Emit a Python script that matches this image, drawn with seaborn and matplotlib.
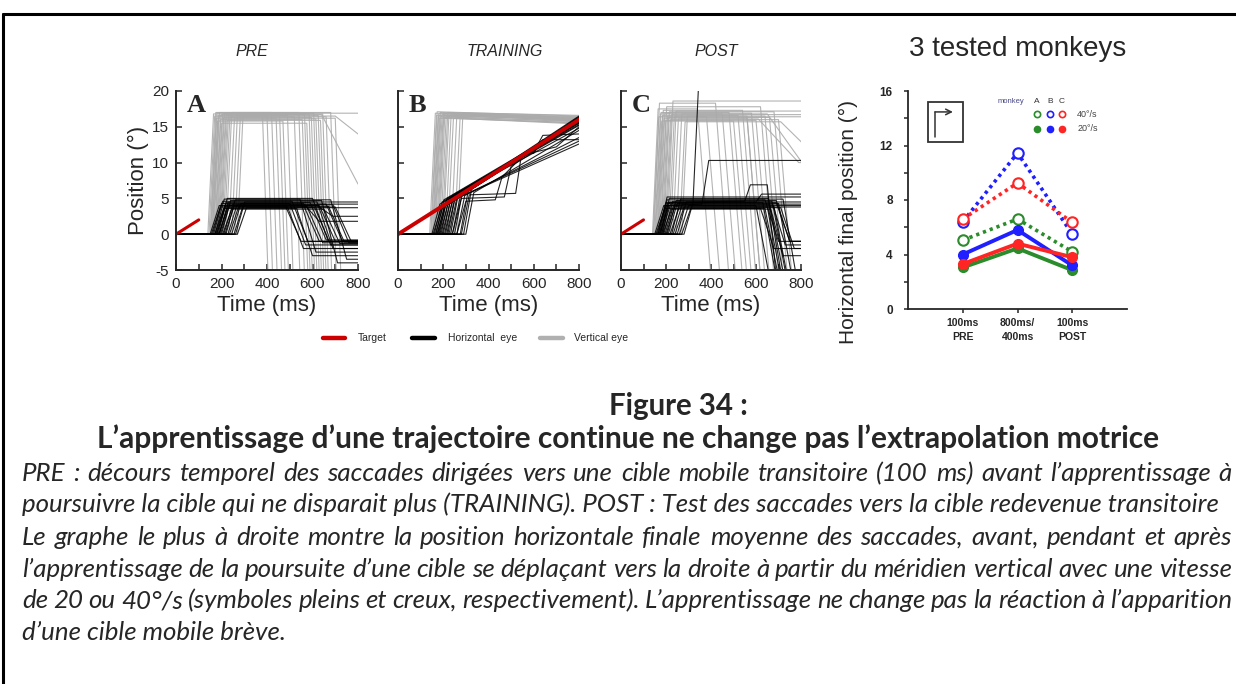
import numpy as np
import pandas as pd
import matplotlib
matplotlib.use("Agg")
import matplotlib.pyplot as plt
from matplotlib.lines import Line2D
from matplotlib.patches import Rectangle
from matplotlib.ticker import MultipleLocator
import seaborn as sns

sns.set_style("ticks")
plt.rcParams["font.family"] = ["Liberation Sans", "DejaVu Sans"]
plt.rcParams["axes.unicode_minus"] = False

W, H = 1236, 684

# ---------------- eye-trace parameters (ms, deg) ----------------
# PRE: horizontal eye
PRE_H_ON = [150, 155, 160, 165, 170, 172, 175, 178, 180, 185, 188, 190, 195, 200, 205,
            210, 215, 220, 228, 235, 245, 255, 262, 270, 190]
PRE_H_AMP = [4.0, 3.8, 4.3, 4.6, 3.6, 4.9, 4.1, 3.9, 4.4, 5.0, 3.7, 4.5, 4.0, 4.7, 3.5,
             4.2, 3.9, 4.8, 4.1, 3.8, 4.3, 4.0, 4.5, 3.7, 4.2]
PRE_H_OFF = [480, 490, 500, 510, 530, 545, 560, 575, 590, 600, 610, 620, 630, 640, 650,
             660, 670, 680, 690, 700, 560, 620, 900, 900, 900]
PRE_H_END = [-1.0, -2.0, -1.5, -1.0, -3.0, -2.5, -1.0, -1.2, -0.8, -1.0, -1.5, -2.0, -1.0,
             -4.0, -1.3, -0.9, -1.1, -3.5, -1.2, -1.0, 1.8, 2.5, 0, 0, 0]
# PRE: vertical eye
PRE_V_ON = [140, 145, 150, 152, 155, 158, 160, 163, 166, 170, 173, 176, 180, 184, 188,
            192, 196, 200, 206, 212, 220, 232, 245, 258, 270]
PRE_V_AMP = [16.8, 16.5, 17.0, 16.2, 16.9, 15.8, 16.6, 16.4, 17.0, 16.0, 16.7, 15.5, 16.8,
             16.3, 16.9, 16.1, 16.6, 15.9, 16.8, 16.4, 17.0, 16.2, 16.7, 16.5, 16.9]
PRE_V_OFF = [380, 400, 420, 440, 455, 470, 490, 520, 540, 555, 565, 575, 585, 595, 605,
             615, 625, 635, 645, 660, 680, 700, 640, 700, 900]
PRE_V_END = [-6] * 22 + [7.0, 14.0, 0]
PRE_V_DUR = [25] * 22 + [160, 100, 0]

# TRAINING: horizontal eye (onset, landing after first saccade, position at 800 ms)
TRN_H_ON = [150, 155, 160, 165, 168, 172, 175, 178, 182, 185, 190, 195, 200, 205, 210,
            215, 220, 225, 232, 240, 250, 260, 275, 290, 300]
TRN_H_LAND = [4.2, 3.5, 4.5, 4.0, 4.8, 3.9, 4.6, 4.3, 5.0, 4.1, 4.9, 4.4, 5.2, 4.6, 5.4,
              4.8, 5.5, 5.0, 5.6, 5.2, 5.9, 5.4, 6.0, 6.3, 5.8]
TRN_H_END = [15.8, 16.2, 15.5, 16.5, 15.9, 16.0, 15.2, 16.3, 15.7, 16.1, 14.8, 16.4, 15.6,
             16.0, 15.3, 16.2, 15.9, 13.0, 16.1, 12.6, 15.5, 13.5, 16.0, 15.7, 14.5]
# TRAINING: horizontal traces with catch-up steps (time, position)
TRN_H_STEP_T = [[0, 260, 300, 430, 460, 560, 600, 640, 800],
                [0, 240, 280, 470, 500, 600, 640, 800],
                [0, 280, 315, 520, 545, 700, 800]]
TRN_H_STEP_Y = [[0, 0, 4.6, 4.8, 8.0, 11.2, 11.3, 13.2, 13.2],
                [0, 0, 5.0, 5.2, 9.5, 11.5, 13.8, 14.0],
                [0, 0, 5.5, 5.7, 11.0, 12.2, 15.0]]
# TRAINING: vertical eye
TRN_V_ON = [140, 145, 148, 152, 155, 158, 162, 165, 170, 174, 178, 182, 188, 195, 200,
            210, 220, 235, 250, 262]
TRN_V_AMP = [16.9, 16.6, 17.1, 16.4, 16.8, 16.2, 17.0, 16.5, 16.7, 16.3, 16.9, 16.6, 16.4,
             17.0, 16.5, 16.8, 16.2, 16.7, 16.6, 16.9]
TRN_V_END = [16.3, 16.0, 16.5, 15.8, 16.2, 15.6, 16.4, 16.1, 15.9, 15.5, 16.3, 16.0, 15.7,
             16.6, 16.2, 15.9, 15.4, 16.1, 15.8, 16.2]

# POST: horizontal eye
PST_H_ON = [150, 155, 160, 165, 170, 175, 180, 185, 190, 195, 200, 205, 210, 218, 225,
            232, 240, 250, 260, 270, 280, 165]
PST_H_AMP = [4.0, 3.6, 4.4, 4.8, 3.8, 5.0, 4.2, 3.5, 4.6, 4.1, 3.9, 4.7, 4.3, 3.7, 4.9,
             4.2, 3.8, 4.5, 4.0, 3.6, 4.4, 5.2]
PST_H_OFF = [600, 620, 630, 640, 650, 655, 660, 665, 670, 675, 680, 690, 700, 710, 720,
             900, 900, 900, 900, 640, 690, 900]
PST_H_END = [-6, -2, -6, -1, -6, -6, -3, -6, -1.5, -6, -6, -1, -6, -2, -6,
             0, 0, 0, 0, -6, -1, 0]
PST_H_STEP_T = [[0, 170, 200, 360, 390, 800],
                [0, 175, 205, 320, 345],
                [0, 185, 215, 550, 575, 650, 690],
                [0, 180, 210, 600, 625, 800]]
PST_H_STEP_Y = [[0, 0, 4.0, 4.2, 10.3, 10.3],
                [0, 0, 4.3, 4.4, 21.0],
                [0, 0, 4.5, 4.6, 6.9, 6.9, -6.0],
                [0, 0, 4.4, 4.5, 5.6, 5.6]]
# POST: vertical eye
PST_V_ON = [140, 143, 146, 150, 153, 156, 160, 163, 166, 170, 174, 178, 182, 186, 190,
            195, 200, 206, 212, 220, 230, 245, 260, 270]
PST_V_AMP = [17.5, 16.4, 18.3, 16.8, 17.0, 15.8, 16.6, 17.3, 16.2, 16.9, 15.9, 17.8, 16.5,
             16.3, 17.1, 16.0, 16.7, 18.6, 16.4, 17.2, 16.1, 16.8, 15.7, 16.5]
PST_V_OFF = [340, 380, 420, 450, 480, 500, 520, 540, 560, 580, 600, 620, 640, 660, 680,
             700, 900, 900, 900, 900, 610, 650, 710, 560]
PST_V_END = [-6] * 16 + [0, 0, 0, 0] + [10, 8, 12, -6]
PST_V_DUR = [60] * 16 + [0, 0, 0, 0] + [180, 200, 120, 60]

# target trajectories (20 deg/s)
TGT_T_SHORT = [0, 100]
TGT_Y_SHORT = [0, 2.0]
TGT_T_LONG = [0, 800]
TGT_Y_LONG = [0, 16.0]

# ---------------- final horizontal positions ----------------
PHASES = ["100ms\nPRE", "800ms/\n400ms", "100ms\nPOST"]
MONKEYS = ["A", "B", "C"]
FAST_MEAN = {"A": [5.05, 6.6, 4.2], "B": [6.4, 11.45, 5.5], "C": [6.6, 9.25, 6.35]}
FAST_ERR = {"A": [0.2, 0.25, 0.2], "B": [0.3, 0.35, 0.25], "C": [0.2, 0.3, 0.25]}
SLOW_MEAN = {"A": [3.05, 4.45, 2.85], "B": [4.0, 5.8, 3.2], "C": [3.3, 4.8, 3.8]}
SLOW_ERR = {"A": [0.15, 0.15, 0.35], "B": [0.25, 0.3, 0.3], "C": [0.15, 0.2, 0.2]}
MONKEY_COLORS = {"A": "#2a8c2a", "B": "#1f1fff", "C": "#ff2525"}

GRAY = "#ababab"
RED = "#cc0000"


def step_traces(on, amp, off, end, dur, rise):
    rows = []
    for i in range(len(on)):
        if off[i] >= 800:
            t = [0, on[i], on[i] + rise, 900]
            y = [0, 0, amp[i], amp[i]]
        else:
            t = [0, on[i], on[i] + rise, off[i], off[i] + dur[i], 900]
            y = [0, 0, amp[i], amp[i], end[i], end[i]]
        rows += [(i, tt, yy) for tt, yy in zip(t, y)]
    return rows


def pursuit_traces(on, land, end, rise):
    rows = []
    for i in range(len(on)):
        t = [0, on[i], on[i] + rise, 800]
        y = [0, 0, land[i], end[i]]
        rows += [(i, tt, yy) for tt, yy in zip(t, y)]
    return rows


def explicit_traces(ts, ys, start):
    rows = []
    for k, (t, y) in enumerate(zip(ts, ys)):
        rows += [(start + k, tt, yy) for tt, yy in zip(t, y)]
    return rows


def frame(rows):
    return pd.DataFrame(rows, columns=["trial", "t", "pos"])


pre_h = frame(step_traces(PRE_H_ON, PRE_H_AMP, PRE_H_OFF, PRE_H_END,
                          [70] * len(PRE_H_ON), 40))
pre_v = frame(step_traces(PRE_V_ON, PRE_V_AMP, PRE_V_OFF, PRE_V_END, PRE_V_DUR, 25))
trn_h = frame(pursuit_traces(TRN_H_ON, TRN_H_LAND, TRN_H_END, 35)
              + explicit_traces(TRN_H_STEP_T, TRN_H_STEP_Y, 100))
trn_v = frame(pursuit_traces(TRN_V_ON, TRN_V_AMP, TRN_V_END, 25))
pst_h = frame(step_traces(PST_H_ON, PST_H_AMP, PST_H_OFF, PST_H_END,
                          [60] * len(PST_H_ON), 40)
              + explicit_traces(PST_H_STEP_T, PST_H_STEP_Y, 100))
pst_v = frame(step_traces(PST_V_ON, PST_V_AMP, PST_V_OFF, PST_V_END, PST_V_DUR, 25))

fig = plt.figure(figsize=(W / 100, H / 100), dpi=100)


def fig_rect(x0, y0, x1, y1):
    return [x0 / W, 1 - y1 / H, (x1 - x0) / W, (y1 - y0) / H]


panels = [
    ("PRE", "A", fig_rect(176, 91, 358, 270), pre_v, pre_h, TGT_T_SHORT, TGT_Y_SHORT, 252),
    ("TRAINING", "B", fig_rect(398, 91, 579, 270), trn_v, trn_h, TGT_T_LONG, TGT_Y_LONG, 505),
    ("POST", "C", fig_rect(621, 91, 801, 270), pst_v, pst_h, TGT_T_SHORT, TGT_Y_SHORT, 716),
]

for idx, (title, letter, rect, dv, dh, tt, ty, tx) in enumerate(panels):
    ax = fig.add_axes(rect)
    sns.lineplot(data=dv, x="t", y="pos", units="trial", estimator=None, sort=False,
                 color=GRAY, lw=0.8, alpha=0.9, ax=ax, legend=False)
    sns.lineplot(data=dh, x="t", y="pos", units="trial", estimator=None, sort=False,
                 color="black", lw=0.8, alpha=0.85, ax=ax, legend=False)
    sns.lineplot(x=tt, y=ty, color=RED, lw=2.8 if idx == 1 else 2.2, ax=ax,
                 legend=False, estimator=None)
    ax.set_xlim(0, 800)
    ax.set_ylim(-5, 20)
    ax.xaxis.set_major_locator(MultipleLocator(200))
    ax.xaxis.set_minor_locator(MultipleLocator(100))
    ax.yaxis.set_major_locator(MultipleLocator(5))
    ax.tick_params(which="both", direction="in", length=4, width=1.1,
                   labelsize=11, pad=5)
    sns.despine(ax=ax)
    for s in ("left", "bottom"):
        ax.spines[s].set_linewidth(1.4)
    ax.set_xlabel("Time (ms)", fontsize=16, labelpad=3)
    if idx == 0:
        ax.set_ylabel("Position (°)", fontsize=16, labelpad=2)
    else:
        ax.set_ylabel("")
        ax.set_yticklabels([])
    ax.text(0.06, 0.92, letter, transform=ax.transAxes, fontsize=19,
            fontweight="bold", family="Liberation Serif", va="center", ha="left")
    fig.text(tx / W, 1 - 51 / H, title, fontsize=11.5, style="italic",
             ha="center", va="center")

# legend for the traces
for x0, x1, col, tx, lab in [(323, 345, RED, 358, "Target"),
                             (412, 435, "black", 448, "Horizontal  eye"),
                             (540, 563, "#b0b0b0", 574, "Vertical eye")]:
    fig.add_artist(Line2D([x0 / W, x1 / W], [1 - 338 / H] * 2, color=col, lw=3.2))
    fig.text(tx / W, 1 - 338 / H, lab, fontsize=7.5, ha="left", va="center")

# ---------------- final position panel ----------------
axr = fig.add_axes(fig_rect(908, 91, 1127, 309))
rows = []
for m in MONKEYS:
    for p in range(3):
        rows.append((m, "40°/s", p, FAST_MEAN[m][p], FAST_ERR[m][p]))
        rows.append((m, "20°/s", p, SLOW_MEAN[m][p], SLOW_ERR[m][p]))
fp = pd.DataFrame(rows, columns=["monkey", "speed", "phase", "pos", "err"])

sns.lineplot(data=fp[fp.speed == "40°/s"], x="phase", y="pos", hue="monkey",
             palette=MONKEY_COLORS, lw=2.6, dashes=False, ax=axr, legend=False,
             estimator=None, linestyle=(0, (0.9, 1.1)))
sns.lineplot(data=fp[fp.speed == "20°/s"], x="phase", y="pos", hue="monkey",
             palette=MONKEY_COLORS, lw=2.8, ax=axr, legend=False, estimator=None)
for m in MONKEYS:
    sub = fp[(fp.monkey == m) & (fp.speed == "40°/s")]
    axr.errorbar(sub.phase, sub.pos, yerr=sub.err, fmt="o", ms=7.5, mfc="white",
                 mec=MONKEY_COLORS[m], mew=1.5, ecolor=MONKEY_COLORS[m],
                 elinewidth=1.3, capsize=0, zorder=4)
    sub = fp[(fp.monkey == m) & (fp.speed == "20°/s")]
    axr.errorbar(sub.phase, sub.pos, yerr=sub.err, fmt="o", ms=7,
                 mfc=MONKEY_COLORS[m], mec=MONKEY_COLORS[m], ecolor=MONKEY_COLORS[m],
                 elinewidth=1.3, capsize=0, zorder=5)

axr.set_xlim(-1, 3)
axr.set_ylim(0, 16)
axr.set_xticks(range(3))
axr.set_xticklabels(PHASES, fontsize=7.5, fontweight="bold", linespacing=1.5)
axr.yaxis.set_major_locator(MultipleLocator(4))
axr.yaxis.set_minor_locator(MultipleLocator(2))
axr.tick_params(which="both", direction="out", length=3, width=1.1)
axr.tick_params(axis="y", labelsize=8.5, pad=8)
for lab in axr.get_yticklabels():
    lab.set_fontweight("bold")
sns.despine(ax=axr)
for s in ("left", "bottom"):
    axr.spines[s].set_linewidth(1.3)
axr.set_xlabel("")
axr.set_ylabel("Horizontal final position (°)", fontsize=15)
axr.yaxis.set_label_coords(-0.228, 0.40)
axr.set_title("3 tested monkeys", fontsize=20, pad=25)

# direction icon
axr.add_patch(Rectangle((0.091, 0.766), 0.16, 0.184, transform=axr.transAxes,
                        fill=False, ec="#333333", lw=1.3, clip_on=False))
axr.annotate("", xy=(0.205, 0.904), xytext=(0.123, 0.904), xycoords="axes fraction",
             arrowprops=dict(arrowstyle="->", color="#333333", lw=1.1,
                             shrinkA=0, shrinkB=0))
axr.plot([0.123, 0.123], [0.789, 0.904], transform=axr.transAxes, color="#333333",
         lw=1.1, clip_on=False)

# monkey / speed key
axr.text(0.47, 0.954, "monkey", transform=axr.transAxes, fontsize=5.5,
         color="#4a4a8a", ha="center", va="center")
for m, xk in zip(MONKEYS, [0.589, 0.648, 0.703]):
    axr.text(xk, 0.954, m, transform=axr.transAxes, fontsize=6, color="#333333",
             ha="center", va="center")
    axr.plot([xk], [0.894], "o", transform=axr.transAxes, ms=4.5, mfc="white",
             mec=MONKEY_COLORS[m], mew=1.2, clip_on=False)
    axr.plot([xk], [0.826], "o", transform=axr.transAxes, ms=4.5,
             color=MONKEY_COLORS[m], clip_on=False)
axr.text(0.772, 0.894, "40°/s", transform=axr.transAxes, fontsize=6.5, color="#444444",
         ha="left", va="center")
axr.text(0.772, 0.826, "20°/s", transform=axr.transAxes, fontsize=6.5, color="#444444",
         ha="left", va="center")

# ---------------- caption ----------------
renderer = fig.canvas.get_renderer()
CAP_FONT = ["Lato", "DejaVu Sans"]


def measure(s, **kw):
    t = fig.text(0, 0, s, **kw)
    w = t.get_window_extent(renderer).width
    t.remove()
    return w


def fitted_size(s, width, **kw):
    return 10 * width / measure(s, fontsize=10, **kw)


fig_title = "Figure 34 :"
heading = "L’apprentissage d’une trajectoire continue ne change pas l’extrapolation motrice"
lines = [
    "PRE : décours temporel des saccades dirigées vers une cible mobile transitoire (100 ms) avant l’apprentissage à",
    "poursuivre la cible qui ne disparait plus (TRAINING). POST : Test des saccades vers la cible redevenue transitoire",
    "Le graphe le plus à droite montre la position horizontale finale moyenne des saccades, avant, pendant et après",
    "l’apprentissage de la poursuite d’une cible se déplaçant vers la droite à partir du méridien vertical avec une vitesse",
    "de 20 ou 40°/s (symboles pleins et creux, respectivement). L’apprentissage ne change pas la réaction à l’apparition",
    "d’une cible mobile brève.",
]
line_right = [1232, None, 1232, 1232, 1232, None]
baselines = [481, 512, 545, 577, 608, 640]

bold_kw = dict(family=CAP_FONT, fontweight="bold")
fs = fitted_size(fig_title, 140, **bold_kw)
fig.text(678 / W, 1 - 415 / H, fig_title, fontsize=fs, ha="center", va="baseline", **bold_kw)
fs = fitted_size(heading, 1063, **bold_kw)
fig.text(628 / W, 1 - 448 / H, heading, fontsize=fs, ha="center", va="baseline", **bold_kw)

it_kw = dict(family=CAP_FONT, style="italic")
body_fs = fitted_size(lines[1], 1195, **it_kw)
for txt, right, yb in zip(lines, line_right, baselines):
    if right is None:
        fig.text(22 / W, 1 - yb / H, txt, fontsize=body_fs, ha="left", va="baseline", **it_kw)
        continue
    words = txt.split(" ")
    widths = [measure(w, fontsize=body_fs, **it_kw) for w in words]
    gap = (right - 22 - sum(widths)) / (len(words) - 1)
    x = 22.0
    for w, wd in zip(words, widths):
        fig.text(x / W, 1 - yb / H, w, fontsize=body_fs, ha="left", va="baseline", **it_kw)
        x += wd + gap

# frame around the figure
fig.add_artist(Line2D([3 / W, 1.0], [1 - 14 / H] * 2, color="black", lw=2.2))
fig.add_artist(Line2D([3 / W] * 2, [1 - 14 / H, 0.0], color="black", lw=2.2))

fig.savefig("out.png", dpi=100)
